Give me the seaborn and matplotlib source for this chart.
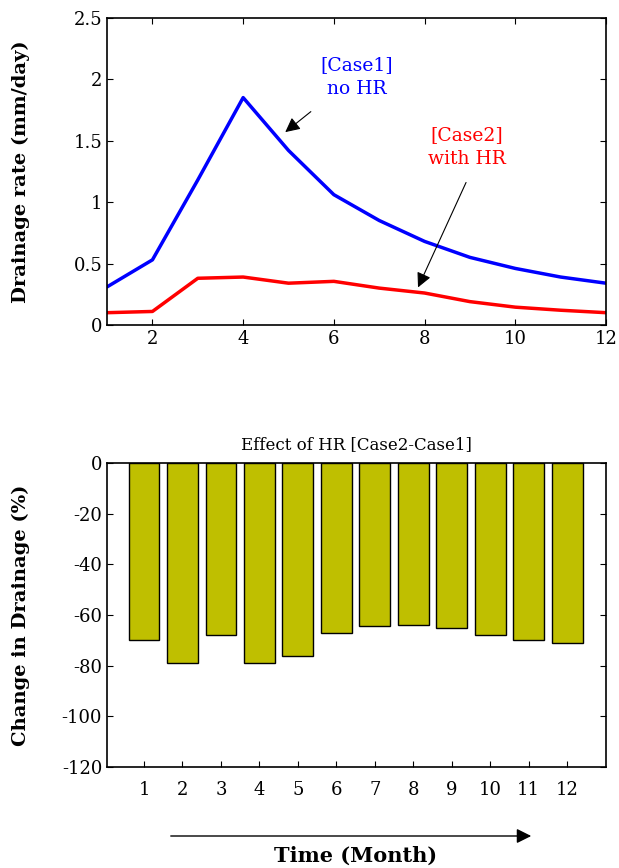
from matplotlib import pyplot as plt
import pandas as pd
import seaborn as sns

months = list(range(1, 13))
case1_no_hr = [0.31, 0.53, 1.18, 1.85, 1.42, 1.06, 0.85, 0.68, 0.55, 0.46, 0.39, 0.34]
case2_with_hr = [0.10, 0.11, 0.38, 0.39, 0.34, 0.355, 0.30, 0.26, 0.19, 0.145, 0.12, 0.10]
change_pct = [-70, -79, -68, -79, -76, -67, -64.4, -63.8, -65.2, -68, -70, -71]

df_lines = pd.DataFrame({'Month': months * 2,
                         'Drainage': case1_no_hr + case2_with_hr,
                         'Case': ['Case1'] * 12 + ['Case2'] * 12})
df_bars = pd.DataFrame({'Month': months, 'Change': change_pct})

sns.set_style('ticks')
plt.rcParams['font.family'] = ['DejaVu Serif']
plt.rcParams['axes.unicode_minus'] = False
plt.rcParams['xtick.direction'] = 'in'
plt.rcParams['ytick.direction'] = 'in'
plt.rcParams['xtick.top'] = True
plt.rcParams['ytick.right'] = True
plt.rcParams['text.color'] = 'black'
plt.rcParams['axes.labelcolor'] = 'black'
plt.rcParams['xtick.color'] = 'black'
plt.rcParams['ytick.color'] = 'black'
plt.rcParams['axes.edgecolor'] = 'black'

fig = plt.figure(figsize=(6.19, 8.68), dpi=100)
ax1 = fig.add_axes([0.173, 0.6256, 0.806, 0.354])
ax2 = fig.add_axes([0.173, 0.1164, 0.806, 0.350])

# top: drainage rate
sns.lineplot(data=df_lines, x='Month', y='Drainage', hue='Case',
             palette={'Case1': '#0000FF', 'Case2': '#FF0000'},
             linewidth=2.5, legend=False, ax=ax1)
ax1.set_xlim(1, 12)
ax1.set_ylim(0, 2.5)
ax1.set_xticks([2, 4, 6, 8, 10, 12])
ax1.set_yticks([0, 0.5, 1, 1.5, 2, 2.5])
ax1.set_yticklabels(['0', '0.5', '1', '1.5', '2', '2.5'])
ax1.set_xlabel('')
ax1.set_ylabel('Drainage rate (mm/day)', fontsize=14, fontweight='bold')
ax1.tick_params(labelsize=13, length=4, width=0.8)

ax1.text(6.51, 2.02, '[Case1]\nno HR', color='#0000FF', fontsize=13.5,
         ha='center', va='center', linespacing=1.4)
ax1.annotate('', xy=(4.88, 1.555), xytext=(5.54, 1.75),
             arrowprops=dict(arrowstyle='-|>', color='black', lw=0.8,
                             mutation_scale=22))
ax1.text(8.94, 1.45, '[Case2]\nwith HR', color='#FF0000', fontsize=13.5,
         ha='center', va='center', linespacing=1.4)
ax1.annotate('', xy=(7.83, 0.285), xytext=(8.94, 1.18),
             arrowprops=dict(arrowstyle='-|>', color='black', lw=0.8,
                             mutation_scale=22))

# bottom: percent change
sns.barplot(data=df_bars, x='Month', y='Change', color='#BFBF00',
            edgecolor='black', linewidth=1, width=0.8, saturation=1, ax=ax2)
ax2.set_xlim(-0.96, 12.01)
ax2.set_ylim(-120, 0)
ax2.set_yticks(range(-120, 1, 20))
ax2.set_xlabel('')
ax2.set_ylabel('Change in Drainage (%)', fontsize=14, fontweight='bold')
ax2.set_title('Effect of HR [Case2-Case1]', fontsize=12, pad=10)
ax2.tick_params(labelsize=13, length=4, width=0.8)
ax2.tick_params(axis='x', pad=10)

for ax in (ax1, ax2):
    for s in ax.spines.values():
        s.set_linewidth(1.2)
    ax.yaxis.set_label_coords(-0.155, 0.5)

ax2.annotate('', xy=(534 / 619, 1 - 836 / 868), xytext=(168 / 619, 1 - 836 / 868),
             xycoords='figure fraction', textcoords='figure fraction',
             arrowprops=dict(arrowstyle='-|>', color='black', lw=1,
                             mutation_scale=22))
fig.text(356 / 619, 1 - 856 / 868, 'Time (Month)', fontsize=15,
         fontweight='bold', ha='center', va='center')

plt.savefig('out.png', dpi=100)
